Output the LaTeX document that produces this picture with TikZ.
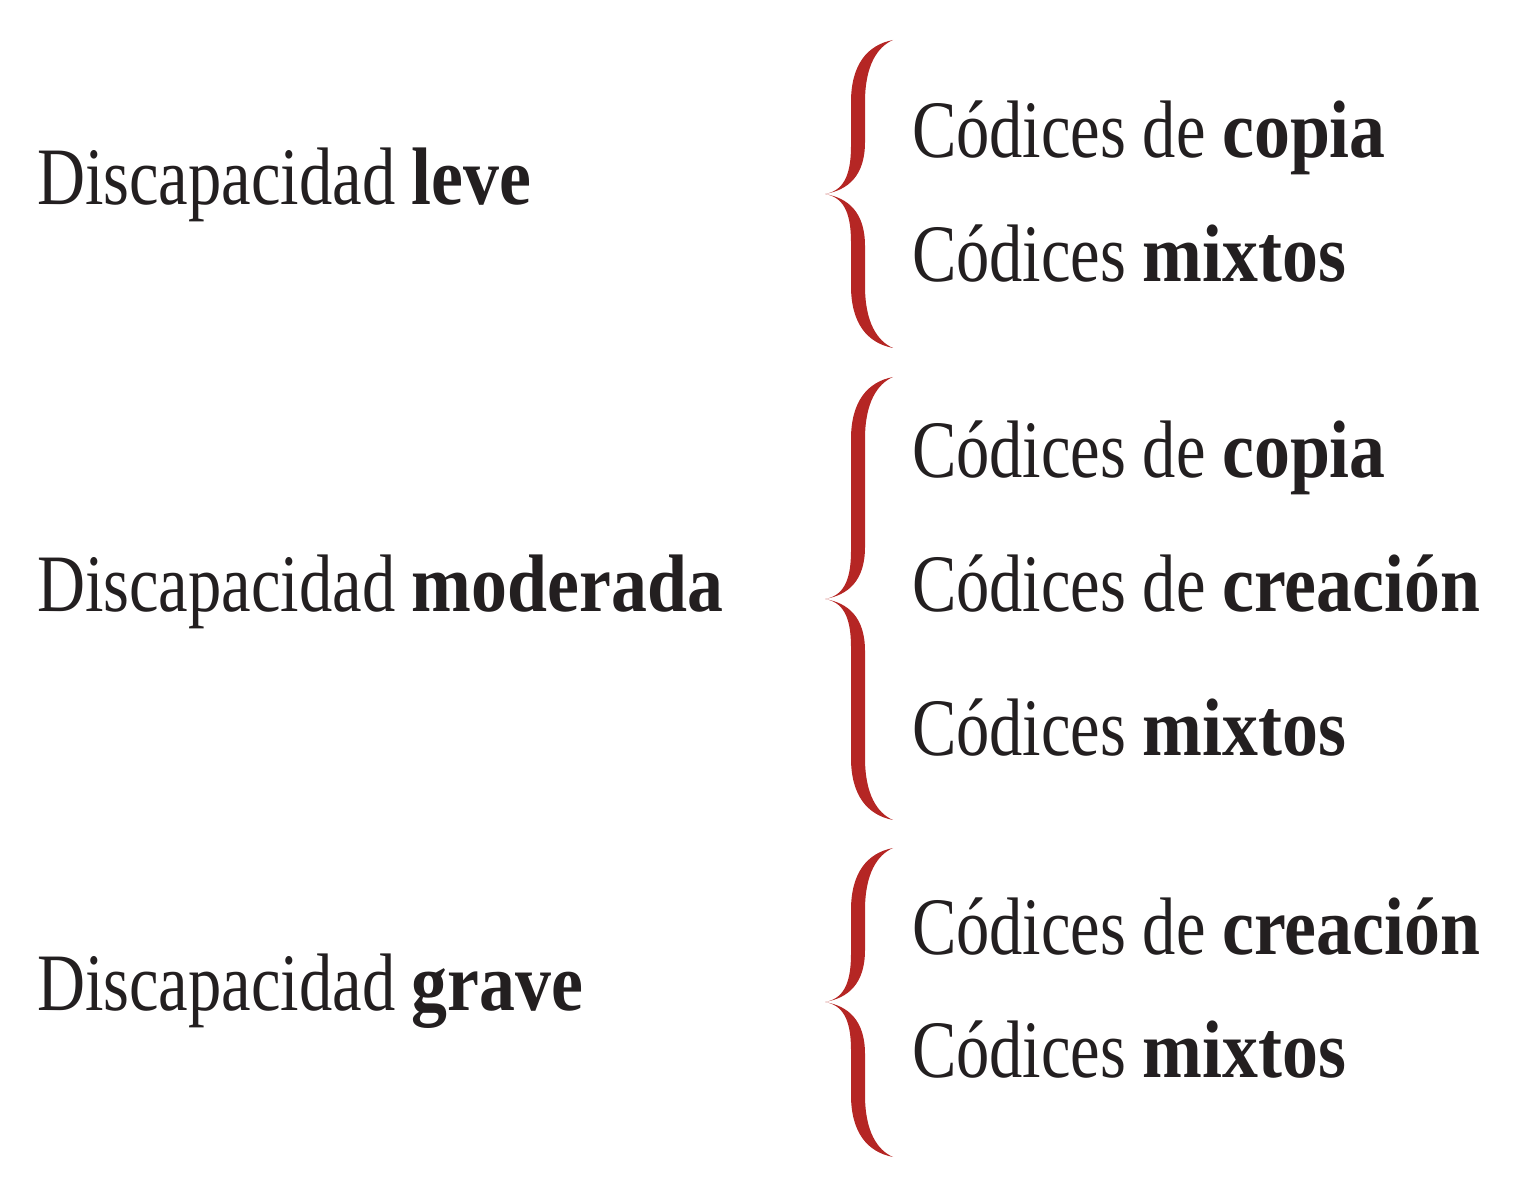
\documentclass[tikz,border=0pt]{standalone}
\usepackage{fontspec}
\setmainfont{Liberation Serif}[FakeStretch=0.815]
\newfontfamily\bfam{Liberation Serif}[FakeStretch=0.88]
\newcommand{\bw}[1]{{\bfam\bfseries #1}}
\definecolor{ink}{RGB}{35,31,32}
\definecolor{bracered}{RGB}{181,38,36}
\newcommand{\redbrace}[3]{% top, tip, bottom (px)
  \fill[bracered]
    (893,#1) .. controls (867,#1+5) and (851,#1+25) .. (851,#1+62)
    -- (851,#2-48) .. controls (851,#2-16) and (842,#2-3) .. (825,#2)
    .. controls (842,#2+3) and (851,#2+16) .. (851,#2+48)
    -- (851,#3-62) .. controls (851,#3-25) and (867,#3-5) .. (893,#3)
    .. controls (877,#3-7) and (865,#3-26) .. (865,#3-62)
    -- (865,#2+52) .. controls (865,#2+18) and (848,#2+4) .. (825,#2)
    .. controls (848,#2-4) and (865,#2-18) .. (865,#2-52)
    -- (865,#1+62) .. controls (865,#1+26) and (877,#1+7) .. (893,#1) -- cycle;}
\begin{document}
\begin{tikzpicture}[x=0.5pt,y=-0.5pt,
  lbl/.style={anchor=base west,inner sep=0pt,outer sep=0pt,text=ink,
    font=\fontsize{40.8pt}{48pt}\selectfont}]
\useasboundingbox (0,0) rectangle (1516,1186);
% left categories
\node[lbl] (leve) at (37,205) {Discapacidad \bw{leve}};
\node[lbl] (moderada) at (37,612) {Discapacidad \bw{moderada}};
\node[lbl] (grave) at (37,1010) {Discapacidad \bw{grave}};
% braces
\redbrace{40}{194}{348}
\redbrace{377}{599}{820}
\redbrace{848}{1002}{1157}
% right items
\node[lbl] (l1a) at (912,158) {Códices de \bw{copia}};
\node[lbl] (l1b) at (912,282) {Códices \bw{mixtos}};
\node[lbl] (m1a) at (912,478) {Códices de \bw{copia}};
\node[lbl] (m1b) at (912,612) {Códices de \bw{creación}};
\node[lbl] (m1c) at (912,756) {Códices \bw{mixtos}};
\node[lbl] (g1a) at (912,955) {Códices de \bw{creación}};
\node[lbl] (g1b) at (912,1077) {Códices \bw{mixtos}};
\end{tikzpicture}
\end{document}
